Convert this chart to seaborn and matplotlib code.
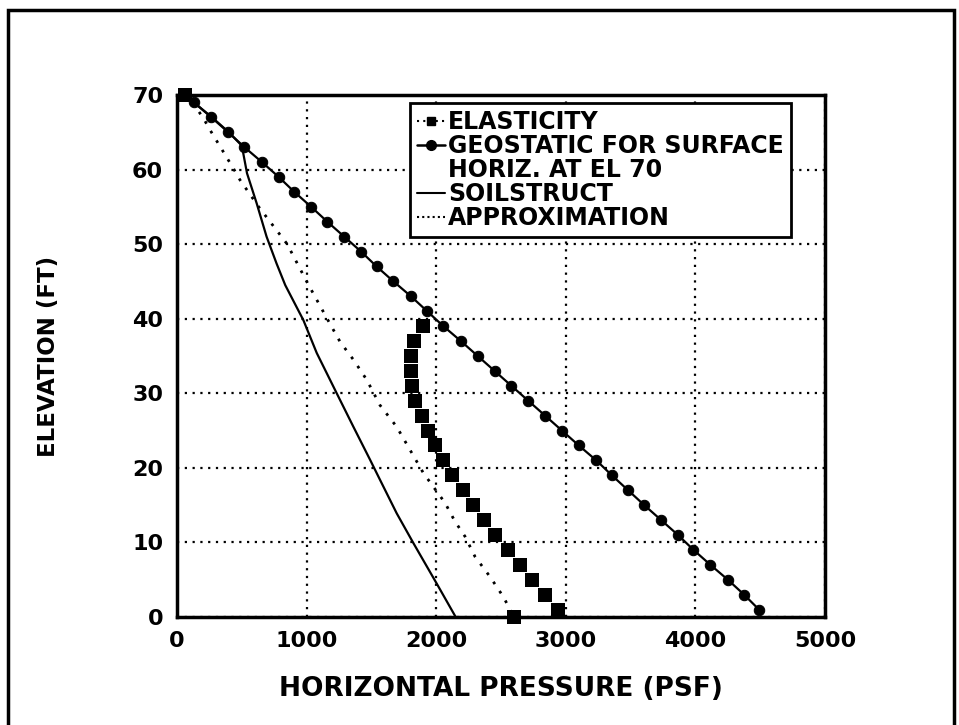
import numpy as np
import pandas as pd
import matplotlib
matplotlib.use("Agg")
import matplotlib.pyplot as plt
from matplotlib.lines import Line2D
from matplotlib.patches import Rectangle
from matplotlib.ticker import MultipleLocator
import seaborn as sns

# values
geo_elev = [70, 69, 67, 65, 63, 61, 59, 57, 55, 53, 51, 49, 47, 45, 43, 41, 39, 37,
            35, 33, 31, 29, 27, 25, 23, 21, 19, 17, 15, 13, 11, 9, 7, 5, 3, 1]
geo_psf = [65, 130, 265, 395, 520, 655, 785, 905, 1035, 1160, 1290, 1420, 1540, 1670,
           1805, 1930, 2055, 2190, 2320, 2450, 2580, 2710, 2840, 2970, 3100, 3235,
           3355, 3480, 3605, 3735, 3865, 3985, 4115, 4250, 4375, 4490]

elas_elev = [70, 39, 37, 35, 33, 31, 29, 27, 25, 23, 21, 19, 17, 15, 13, 11, 9, 7, 5, 3, 1, 0]
elas_psf = [60, 1900, 1830, 1805, 1805, 1815, 1840, 1890, 1935, 1990, 2055, 2120,
            2205, 2280, 2370, 2455, 2550, 2645, 2740, 2840, 2940, 2600]

soil_elev = [70, 67, 65, 63.2, 59.5, 55.5, 51, 47.4, 44.5, 39.8, 35.4, 30, 25.5,
             21.1, 18.4, 13.9, 9.9, 4.5, 0]
soil_psf = [60, 270, 400, 500, 540, 614, 691, 768, 835, 975, 1078, 1232, 1361,
            1489, 1566, 1695, 1824, 2003, 2150]

appr_elev = [70, 68.5, 66.9, 65.3, 63.1, 60, 58.6, 55, 50, 45, 40.1, 36.9, 34.5,
             31.8, 28.4, 25.5, 22.4, 19.3, 15.3, 12.8, 10.8, 8.1, 5.4, 2.7, 0]
appr_psf = [60, 139, 203, 255, 332, 440, 486, 630, 850, 1000, 1155, 1258, 1361,
            1464, 1566, 1695, 1798, 1901, 2068, 2145, 2222, 2299, 2415, 2518, 2600]

x_ticks = [0, 1000, 2000, 3000, 4000, 5000]
y_ticks = [0, 10, 20, 30, 40, 50, 60, 70]

sns.set_style("white")
plt.rcParams['font.family'] = ['DejaVu Sans']
plt.rcParams['font.weight'] = 'bold'
plt.rcParams['text.color'] = 'black'
plt.rcParams['axes.labelcolor'] = 'black'

fig = plt.figure(figsize=(9.59, 7.25), dpi=100)
ax = fig.add_axes([0.1846, 0.149, 0.6757, 0.72])

dots = (0, (1, 3))

sns.lineplot(x=soil_psf, y=soil_elev, sort=False, estimator=None, color='black',
             linewidth=1.6, ax=ax)
sns.lineplot(x=appr_psf, y=appr_elev, sort=False, estimator=None, color='black',
             linewidth=2, linestyle=dots, ax=ax)
sns.lineplot(x=geo_psf, y=geo_elev, sort=False, estimator=None, color='black',
             linewidth=1.6, marker='o', markersize=7.5, markeredgecolor='black',
             ax=ax, clip_on=False)
sns.scatterplot(x=elas_psf, y=elas_elev, marker='s', s=95, color='black',
                edgecolor='black', linewidth=0, ax=ax, clip_on=False, zorder=4)

ax.set_xlim(0, 5000)
ax.set_ylim(0, 70)
ax.set_xticks(x_ticks)
ax.set_yticks(y_ticks)
ax.xaxis.set_minor_locator(MultipleLocator(200))
ax.yaxis.set_minor_locator(MultipleLocator(2))
ax.tick_params(which='major', direction='in', length=6, width=1.5, colors='black',
               labelsize=16, pad=10)
ax.tick_params(which='minor', direction='in', length=5, width=1.5, colors='black')
for lab in ax.get_xticklabels() + ax.get_yticklabels():
    lab.set_fontweight('bold')

ax.grid(True, which='major', color='black', linestyle=(0, (1, 2.5)), linewidth=1.6)
for side in ['left', 'bottom', 'right', 'top']:
    ax.spines[side].set_color('black')
    ax.spines[side].set_linewidth(2.5)

ax.set_xlabel('HORIZONTAL PRESSURE (PSF)', fontsize=19, fontweight='bold',
              color='black', labelpad=18)
ax.set_ylabel('ELEVATION (FT)', fontsize=16.5, fontweight='bold', color='black',
              labelpad=52)

# the two-line geostatic label is split so its marker sits on the first line
handles = [
    Line2D([], [], color='black', linestyle=(0, (1, 2)), linewidth=1.5,
           marker='s', markersize=6),
    Line2D([], [], color='black', linestyle='-', linewidth=1.8,
           marker='o', markersize=7),
    Line2D([], [], color='none'),
    Line2D([], [], color='black', linestyle='-', linewidth=1.5),
    Line2D([], [], color='black', linestyle=(0, (1, 1.5)), linewidth=1.5),
]
labels = ['ELASTICITY', 'GEOSTATIC FOR SURFACE', 'HORIZ. AT EL 70', 'SOILSTRUCT',
          'APPROXIMATION']
leg = ax.legend(handles, labels, loc='upper left', bbox_to_anchor=(0.36, 0.985),
                borderaxespad=0, fancybox=False, framealpha=1, edgecolor='black',
                prop={'size': 17, 'weight': 'bold'}, handlelength=1.15,
                handletextpad=0.15, labelspacing=0.0, borderpad=0.3)
leg.get_frame().set_linewidth(2)

fig.add_artist(Rectangle((0.0083, -0.02), 0.987, 1.006, transform=fig.transFigure,
                         fill=False, edgecolor='black', linewidth=2.5))

fig.savefig('out.png', dpi=100)
